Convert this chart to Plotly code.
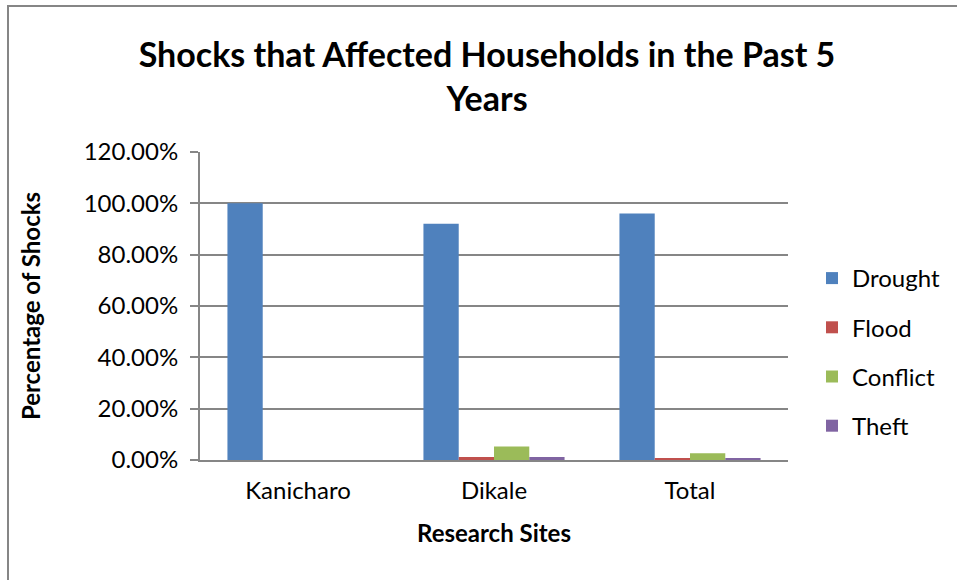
import plotly.graph_objects as go

sites = ["Kanicharo", "Dikale", "Total"]
shock_types = ["Drought", "Flood", "Conflict", "Theft"]
drought = [100.0, 92.0, 96.0]
flood = [0.0, 1.2, 0.6]
conflict = [0.0, 5.3, 2.6]
theft = [0.0, 1.2, 0.6]
colors = ["#4F81BD", "#C0504D", "#9BBB59", "#8064A2"]
y_ticks = [0, 20, 40, 60, 80, 100, 120]

FONT = "Lato, 'Open Sans', sans-serif"

fig = go.Figure()
for i, (name, vals) in enumerate(zip(shock_types, [drought, flood, conflict, theft])):
    fig.add_trace(go.Bar(
        x=sites, y=vals, name=name, marker_color=colors[i],
        marker_line_width=0, legendgroup=name,
        hovertemplate="%{x}: %{y:.2f}%<extra>" + name + "</extra>",
    ))

W, H = 957, 580
L, R, T, B = 200, 169, 152, 120
PW, PH = W - L - R, H - T - B

fig.update_layout(
    width=W, height=H,
    margin=dict(l=L, r=R, t=T, b=B, autoexpand=False),
    paper_bgcolor="white", plot_bgcolor="white",
    barmode="group", bargap=0.28, bargroupgap=0,
    font=dict(family=FONT, size=24, color="black"),
    title=dict(
        text="<b>Shocks that Affected Households in the Past 5<br>Years</b>",
        x=487 / W, xanchor="center", y=1 - 67 / H, yanchor="top",
        font=dict(size=34, family=FONT),
    ),
    legend=dict(
        x=(812 - L) / PW, xanchor="left", y=(460 - 352) / PH, yanchor="middle",
        font=dict(size=24), tracegroupgap=15, traceorder="grouped",
        bgcolor="rgba(0,0,0,0)",
    ),
    showlegend=True,
)
fig.update_xaxes(
    title=dict(text="<b>Research Sites</b>", font=dict(size=24), standoff=22),
    showline=True, linecolor="#868686", linewidth=2,
    ticks="", showgrid=False, ticklabelstandoff=8,
)
fig.update_yaxes(
    title=dict(text="<b>Percentage of Shocks</b>", font=dict(size=24), standoff=36),
    range=[0, 120], tickvals=y_ticks,
    ticktext=[f"{v:.2f}%" for v in y_ticks],
    showgrid=True, gridcolor="#868686", gridwidth=1.5,
    showline=True, linecolor="#868686", linewidth=2,
    ticks="outside", ticklen=8, tickcolor="#868686", tickwidth=1.5,
    ticklabelstandoff=7, zeroline=False,
)

# outer chart frame
fig.add_shape(
    type="rect", xref="paper", yref="paper",
    x0=(8 - L) / PW, x1=(W + 20 - L) / PW,
    y0=1 + (T - (H + 20)) / PH, y1=1 + (T - 6) / PH,
    line=dict(color="#868686", width=2), fillcolor="rgba(0,0,0,0)", layer="below",
)

fig.write_html("out.html")
